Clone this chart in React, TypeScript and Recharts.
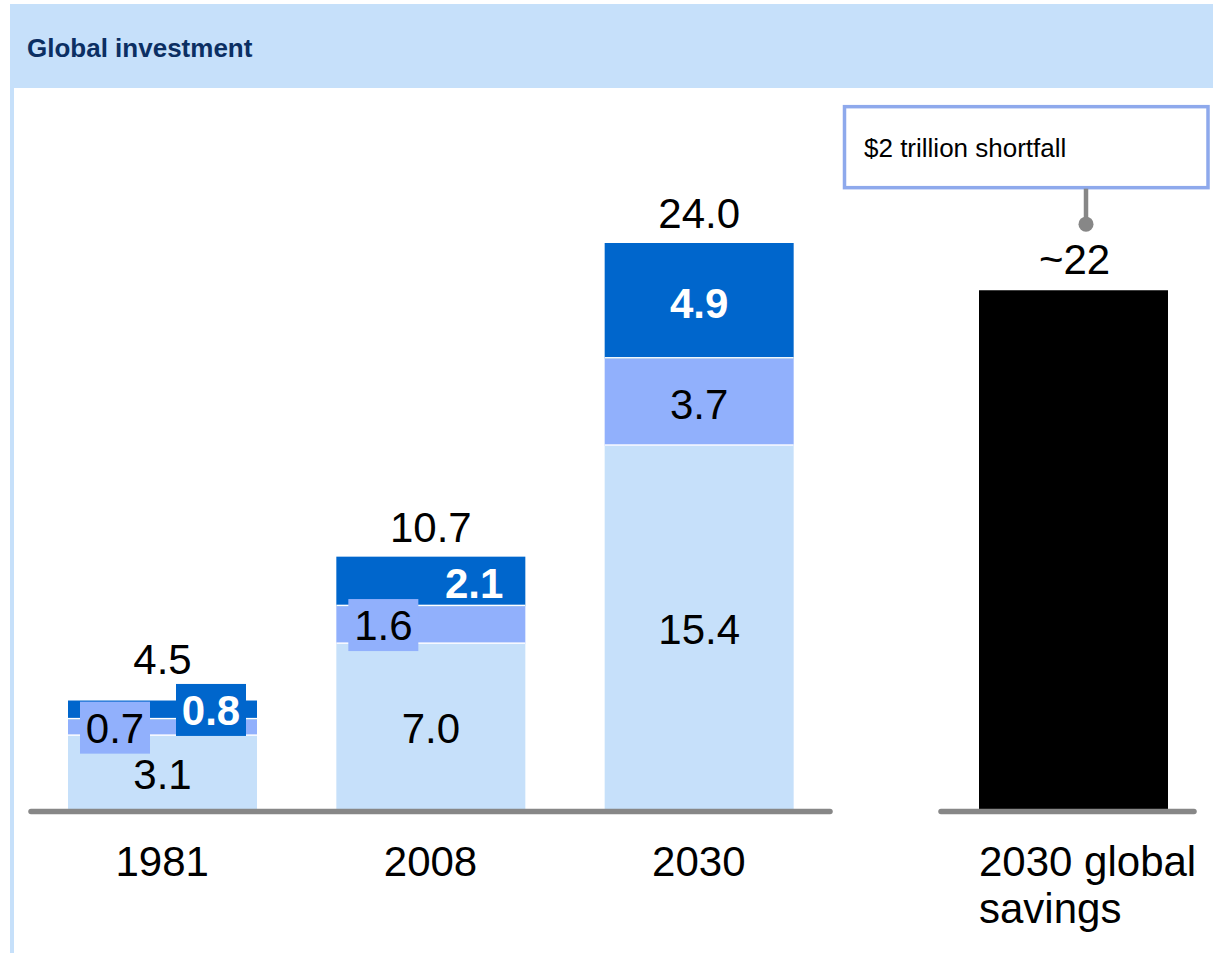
import { BarChart, Bar, XAxis, YAxis, LabelList, ReferenceLine } from 'recharts';

// Stacked global investment, $ trillion
const CATEGORIES = ['1981', '2008', '2030'];
const BASE = [3.1, 7.0, 15.4];
const MID = [0.7, 1.6, 3.7];
const TOP = [0.8, 2.1, 4.9];
const TOTALS = ['4.5', '10.7', '24.0'];

const SAVINGS_CATEGORY = ['2030 global', 'savings'];
const SAVINGS = [22];
const SAVINGS_LABEL = '~22';
const SHORTFALL = '$2 trillion shortfall';
const TITLE = 'Global investment';

const LIGHT = '#c6e0fa';
const MID_BLUE = '#91b0fc';
const DARK = '#0066cc';
const GREY = '#878787';
const FONT = '"Liberation Sans", Arial, Helvetica, sans-serif';
const FS = 42;
const BAR_W = 189;
const Y_MAX = 24;

// where the small segment labels go
const MID_POS = ['boxLeft', 'boxLeft', 'center'];
const TOP_POS = ['boxRight', 'right', 'center'];

const data = CATEGORIES.map((name, i) => ({ name, base: BASE[i], mid: MID[i], top: TOP[i], idx: i }));
const savingsData = [{ name: SAVINGS_CATEGORY.join(' '), value: SAVINGS[0] }];

const sepShape = (p: any) => (
  <g>
    <rect x={p.x} y={p.y} width={p.width} height={p.height} fill={p.fill} />
    <rect x={p.x} y={p.y + p.height - 1.5} width={p.width} height={1.5} fill="#fff" />
  </g>
);

function segLabel(key: string, x: number, y: number, w: number, h: number, text: string, pos: string, fill: string, bold: boolean) {
  const cy = y + h / 2;
  const t = { fontFamily: FONT, fontSize: FS, fontWeight: bold ? 700 : 400, fill: bold ? '#fff' : '#000' };
  if (pos === 'boxLeft' || pos === 'boxRight') {
    const bx = pos === 'boxLeft' ? x + 12 : x + w - 11 - 70;
    return (
      <g key={key}>
        <rect x={bx} y={cy - 26} width={70} height={52} fill={fill} />
        <text x={bx + 35} y={cy + 15} textAnchor="middle" {...t}>{text}</text>
      </g>
    );
  }
  if (pos === 'right') {
    return <text key={key} x={x + w - 22} y={cy + 17} textAnchor="end" {...t}>{text}</text>;
  }
  return <text key={key} x={x + w / 2} y={cy + 17} textAnchor="middle" {...t}>{text}</text>;
}

// all stack labels drawn after the last segment so boxes sit on top
const renderStackLabels = (props: any) => {
  const i = props.value as number;
  const vb = props.viewBox ?? props;
  const { x, y, width: w, height: h } = vb;
  const k = h / TOP[i];
  const midH = MID[i] * k;
  const baseH = BASE[i] * k;
  const midY = y + h;
  const baseY = midY + midH;
  const topBox = TOP_POS[i].startsWith('box') ? y + h / 2 - 26 : Infinity;
  const totalY = Math.min(y - 15, topBox - 10);
  return (
    <g>
      {segLabel('b', x, baseY, w, baseH, BASE[i].toFixed(1), 'center', LIGHT, false)}
      {segLabel('m', x, midY, w, midH, MID[i].toFixed(1), MID_POS[i], MID_BLUE, false)}
      {segLabel('t', x, y, w, h, TOP[i].toFixed(1), TOP_POS[i], DARK, true)}
      <text x={x + w / 2} y={totalY} textAnchor="middle" fontFamily={FONT} fontSize={FS} fill="#000">{TOTALS[i]}</text>
    </g>
  );
};

const renderSavingsLabel = (props: any) => {
  const { x, y, width: w } = props.viewBox ?? props;
  const cx = x + w / 2;
  const boxX = x - 134.5;
  const boxY = y - 183.5;
  return (
    <g>
      <rect x={boxX} y={boxY} width={363.5} height={81} fill="#fff" stroke="#8ea9ec" strokeWidth={3.5} />
      <text x={boxX + 19.5} y={boxY + 50.5} fontFamily={FONT} fontSize={26} fill="#000">{SHORTFALL}</text>
      <line x1={cx + 12.5} x2={cx + 12.5} y1={boxY + 82} y2={y - 66} stroke={GREY} strokeWidth={4.5} />
      <circle cx={cx + 12.5} cy={y - 66} r={7.5} fill={GREY} />
      <text x={cx + 1} y={y - 16} textAnchor="middle" fontFamily={FONT} fontSize={FS} fill="#000">{SAVINGS_LABEL}</text>
    </g>
  );
};

const YearTick = (p: any) => (
  <text x={p.x} y={p.y + 67} textAnchor="middle" fontFamily={FONT} fontSize={FS} fill="#000">{p.payload.value}</text>
);

const SavingsTick = (p: any) => (
  <text x={p.x - BAR_W / 2} y={p.y + 67} fontFamily={FONT} fontSize={FS} fill="#000">
    {SAVINGS_CATEGORY.map((line, i) => (
      <tspan key={i} x={p.x - BAR_W / 2} dy={i === 0 ? 0 : 47}>{line}</tspan>
    ))}
  </text>
);

const baseline = (p: any) => (
  <line x1={p.x1 + 3} x2={p.x2 - 3} y1={p.y1 + 2.5} y2={p.y2 + 2.5} stroke={GREY} strokeWidth={5.5} strokeLinecap="round" />
);

export default function App() {
  return (
    <div style={{ position: 'absolute', left: 0, top: 0, width: 1213, height: 953, background: '#fff', fontFamily: FONT, overflow: 'hidden' }}>
      <div style={{ position: 'absolute', left: 10, top: 4, width: 1203, height: 84, background: LIGHT }} />
      <div style={{ position: 'absolute', left: 10, top: 88, width: 4, height: 865, background: LIGHT }} />
      <div style={{ position: 'absolute', left: 27, top: 35, fontSize: 26, lineHeight: '26px', fontWeight: 700, color: '#0b2f63' }}>
        {TITLE}
      </div>

      <div style={{ position: 'absolute', left: 0, top: 0 }}>
        <BarChart width={860} height={953} data={data} margin={{ top: 243, right: 27, bottom: 44, left: 28 }} barSize={BAR_W}>
          <XAxis dataKey="name" height={100} axisLine={false} tickLine={false} tickSize={0} tickMargin={0} tick={YearTick} interval={0} />
          <YAxis hide domain={[0, Y_MAX]} allowDataOverflow />
          <Bar dataKey="base" stackId="s" fill={LIGHT} isAnimationActive={false} />
          <Bar dataKey="mid" stackId="s" fill={MID_BLUE} shape={sepShape} isAnimationActive={false} />
          <Bar dataKey="top" stackId="s" fill={DARK} shape={sepShape} isAnimationActive={false}>
            <LabelList dataKey="idx" content={renderStackLabels} />
          </Bar>
          <ReferenceLine y={0} shape={baseline} />
        </BarChart>
      </div>

      <div style={{ position: 'absolute', left: 830, top: 0 }}>
        <BarChart width={383} height={953} data={savingsData} margin={{ top: 243, right: 16, bottom: 44, left: 108 }} barSize={BAR_W}>
          <XAxis dataKey="name" height={100} axisLine={false} tickLine={false} tickSize={0} tickMargin={0} tick={SavingsTick} padding={{ left: 12, right: 0 }} />
          <YAxis hide domain={[0, Y_MAX]} allowDataOverflow />
          <Bar dataKey="value" fill="#000" isAnimationActive={false}>
            <LabelList dataKey="value" content={renderSavingsLabel} />
          </Bar>
          <ReferenceLine y={0} shape={baseline} />
        </BarChart>
      </div>
    </div>
  );
}
